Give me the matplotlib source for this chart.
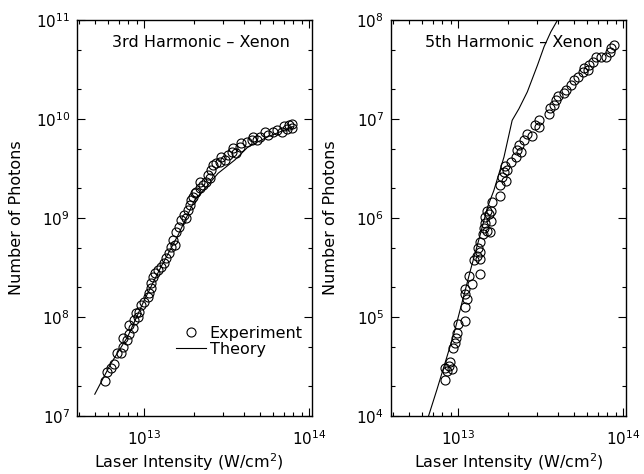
import numpy as np
import matplotlib.pyplot as plt
from matplotlib.ticker import LogLocator, NullFormatter

plt.rcParams['font.family'] = 'DejaVu Sans'
plt.rcParams['mathtext.default'] = 'regular'

# 3rd harmonic, intensity in units of 1e12 W/cm^2
exp3_x = np.array([5.78, 5.92, 6.27, 6.50, 6.81, 7.21, 7.38, 7.38, 7.84, 8.1, 8.1, 8.5,
                   8.7, 8.9, 9.1, 9.3, 9.55, 10.0, 10.5, 10.7, 10.9, 11.0, 11.2, 11.6,
                   12.1, 12.6, 13.1, 13.6, 14.2, 14.5, 14.9, 15.4, 15.6, 16.3, 16.7, 17.4,
                   18.0, 18.4, 18.8, 19.3, 19.7, 20.2, 20.7, 21.6, 21.9, 22.7, 23.8, 24.3,
                   24.9, 25.5, 26.1, 27.3, 28.7, 29.3, 30.7, 32.2, 33.8, 34.6, 36.2, 38.0,
                   38.8, 41.7, 44.7, 45.8, 48.0, 50.2, 53.9, 56.5, 60.7, 63.5, 68.1, 70.8,
                   73.1, 75.5, 79.1, 78.3])
exp3_y = np.array([2.26e7, 2.8e7, 3.03e7, 3.35e7, 4.36e7, 4.36e7, 5.0e7, 6.1e7, 5.8e7, 6.8e7, 8.3e7, 7.7e7,
                   9.3e7, 1.09e8, 1.0e8, 1.13e8, 1.32e8, 1.43e8, 1.6e8, 1.73e8, 1.95e8, 2.19e8, 2.55e8, 2.76e8,
                   2.98e8, 3.22e8, 3.48e8, 3.92e8, 4.4e8, 5.1e8, 6.0e8, 5.3e8, 7.3e8, 8.2e8, 9.5e8, 1.07e9,
                   9.9e8, 1.2e9, 1.35e9, 1.52e9, 1.64e9, 1.77e9, 1.85e9, 2.0e9, 2.33e9, 2.15e9, 2.33e9, 2.72e9,
                   2.52e9, 3.05e9, 3.43e9, 3.56e9, 3.7e9, 4.17e9, 3.86e9, 4.33e9, 4.68e9, 5.06e9, 4.5e9, 5.26e9,
                   5.68e9, 5.9e9, 6.14e9, 6.6e9, 6.14e9, 6.64e9, 7.45e9, 6.9e9, 7.45e9, 7.75e9, 7.45e9, 8.5e9,
                   7.87e9, 8.7e9, 9.0e9, 8.05e9])
theo3_x = np.array([5.0, 6.27, 7.91, 10.0, 12.6, 16.0, 20.2, 24.3, 28.0, 35.4, 42.7, 56.5, 80.0])
theo3_y = np.array([1.66e7, 3.4e7, 6.3e7, 1.49e8, 3.2e8, 6.7e8, 1.52e9, 2.15e9, 2.83e9, 3.86e9,
                    5.26e9, 6.64e9, 8.4e9])

# 5th harmonic
exp5_x = np.array([8.34, 8.53, 8.73, 8.85, 8.34, 9.14, 9.27, 9.59, 9.82, 9.72, 10.0, 11.0,
                   10.9, 11.3, 11.0, 10.9, 11.6, 12.1, 12.4, 12.9, 13.1, 13.5, 13.5, 13.6,
                   13.5, 14.1, 14.3, 14.6, 14.6, 15.0, 15.3, 15.0, 15.5, 15.7, 15.7, 16.0,
                   18.0, 18.0, 18.5, 18.9, 19.1, 19.4, 19.8, 20.8, 22.3, 22.8, 23.3, 23.9,
                   25.0, 26.2, 28.1, 29.2, 30.9, 30.9, 35.6, 36.1, 38.1, 39.0, 40.0, 43.9,
                   44.9, 48.2, 50.5, 52.9, 56.8, 58.1, 60.9, 62.3, 65.3, 68.4, 73.4, 78.7,
                   82.6, 84.5, 88.5])
exp5_y = np.array([2.3e4, 2.84e4, 3.18e4, 3.5e4, 3.06e4, 2.95e4, 4.89e4, 5.5e4, 6.9e4, 6.2e4, 8.4e4, 9.1e4,
                   1.26e5, 1.51e5, 1.70e5, 1.91e5, 2.6e5, 2.14e5, 3.75e5, 4.15e5, 5.0e5, 2.75e5, 3.84e5, 4.5e5,
                   5.66e5, 6.9e5, 8.0e5, 9.0e5, 1.02e6, 7.4e5, 1.1e6, 1.19e6, 7.2e5, 9.4e5, 1.19e6, 1.44e6,
                   1.68e6, 2.13e6, 2.58e6, 2.9e6, 3.39e6, 2.39e6, 3.02e6, 3.67e6, 4.12e6, 4.81e6, 5.4e6, 4.64e6,
                   6.1e6, 7.1e6, 6.8e6, 8.6e6, 9.7e6, 8.3e6, 1.13e7, 1.30e7, 1.38e7, 1.55e7, 1.70e7, 1.81e7,
                   1.98e7, 2.19e7, 2.47e7, 2.67e7, 2.99e7, 3.24e7, 3.11e7, 3.5e7, 3.78e7, 4.25e7, 4.19e7, 4.25e7,
                   4.78e7, 5.16e7, 5.59e7])
theo5_x = np.array([6.3, 6.59, 7.41, 9.37, 11.8, 13.6, 15.0, 16.4, 18.9, 21.2, 23.3, 26.2, 30.2,
                    33.1, 36.4, 40.0, 41.8])
theo5_y = np.array([8.0e3, 1.0e4, 1.85e4, 6.67e4, 2.92e5, 6.9e5, 1.28e6, 1.89e6, 4.12e6, 9.7e6,
                    1.27e7, 1.88e7, 3.5e7, 5.37e7, 7.6e7, 1.0e8, 1.12e8])

panels = [
    (exp3_x, exp3_y, theo3_x, theo3_y, (1e7, 1e11), '3rd Harmonic – Xenon', 0.528, 0.475),
    (exp5_x, exp5_y, theo5_x, theo5_y, (1e4, 1e8), '5th Harmonic – Xenon', 0.523, 0.5),
]
lefts = [77 / 644, 391 / 644]

fig = plt.figure(figsize=(6.44, 4.74), dpi=100)
for i, (ex, ey, tx, ty, ylim, title, tpos, xlab_pos) in enumerate(panels):
    ax = fig.add_axes([lefts[i], 58 / 474, 235 / 644, 396 / 474])
    ax.plot(ex * 1e12, ey, 'o', mfc='none', mec='black', ms=6.5, mew=0.8,
            label='Experiment', zorder=3)
    ax.plot(tx * 1e12, ty, '-', color='black', lw=0.8, label='Theory')
    ax.set_xscale('log')
    ax.set_yscale('log')
    ax.set_xlim(3.9e12, 1.04e14)
    ax.set_ylim(*ylim)
    ax.xaxis.set_major_locator(LogLocator(base=10, numticks=10))
    ax.xaxis.set_minor_locator(LogLocator(base=10, subs=np.arange(2, 10), numticks=10))
    ax.yaxis.set_major_locator(LogLocator(base=10, numticks=10))
    ax.yaxis.set_minor_locator(LogLocator(base=10, subs=(2, 5), numticks=10))
    ax.xaxis.set_minor_formatter(NullFormatter())
    ax.yaxis.set_minor_formatter(NullFormatter())
    ax.tick_params(which='both', direction='in', top=True, right=True, width=0.8)
    ax.tick_params(which='major', length=6, labelsize=11)
    ax.tick_params(which='minor', length=3)
    ax.tick_params(axis='x', pad=9.5)
    ax.tick_params(axis='y', pad=5)
    for sp in ax.spines.values():
        sp.set_linewidth(1.0)
    ax.set_xlabel('Laser Intensity (W/cm$^2$)', fontsize=11.5)
    ax.set_ylabel('Number of Photons', fontsize=11.5)
    ax.xaxis.set_label_coords(xlab_pos, -0.09)
    ax.yaxis.set_label_coords(-0.225, 0.5)
    ax.text(tpos, 0.944, title, transform=ax.transAxes, ha='center', va='center',
            fontsize=11.5)
    if i == 0:
        ax.legend(loc='lower right', bbox_to_anchor=(0.96, 0.15), frameon=False,
                  numpoints=1, handlelength=1.9, handletextpad=0.2, labelspacing=0.05,
                  borderpad=0, borderaxespad=0, fontsize=11.5)

fig.savefig('out.png', dpi=100)
